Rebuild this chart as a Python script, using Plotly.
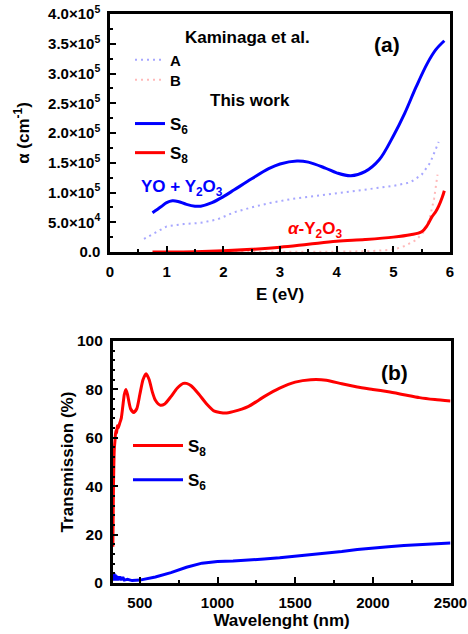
import plotly.graph_objects as go

# ---------- Panel (a): absorption coefficient vs photon energy ----------
E_s6 = [0.75, 0.9, 1.0, 1.1, 1.2, 1.35, 1.5, 1.6, 1.8, 2.0, 2.2, 2.5, 2.8, 3.0, 3.3, 3.5,
        3.8, 4.0, 4.25, 4.5, 4.75, 5.0, 5.2, 5.4, 5.6, 5.75, 5.9]
a_s6 = [6.6e4, 7.6e4, 8.3e4, 8.6e4, 8.5e4, 8.0e4, 7.7e4, 7.7e4, 8.3e4, 9.3e4, 1.05e5, 1.23e5,
        1.40e5, 1.48e5, 1.53e5, 1.51e5, 1.41e5, 1.33e5, 1.28e5, 1.35e5, 1.55e5, 1.95e5,
        2.33e5, 2.77e5, 3.17e5, 3.40e5, 3.55e5]

E_s8 = [0.75, 1.0, 1.5, 2.0, 2.5, 3.0, 3.5, 4.0, 4.5, 5.0, 5.3, 5.5, 5.6, 5.68, 5.75, 5.8, 5.86, 5.9]
a_s8 = [0, 0, 500, 2000, 4500, 8000, 1.3e4, 1.8e4, 2.1e4, 2.5e4, 2.9e4, 3.4e4, 4.5e4, 5.9e4,
        6.8e4, 7.7e4, 9.1e4, 1.03e5]

E_A = [0.6, 0.8, 1.0, 1.3, 1.6, 1.9, 2.2, 2.5, 2.8, 3.2, 3.6, 4.0, 4.5, 5.0, 5.3, 5.5, 5.65, 5.8]
a_A = [2.2e4, 3.2e4, 4.3e4, 4.7e4, 4.9e4, 5.5e4, 6.7e4, 7.5e4, 8.2e4, 8.9e4, 9.4e4, 9.9e4,
       1.04e5, 1.11e5, 1.17e5, 1.30e5, 1.50e5, 1.85e5]

E_B = [2.0, 3.0, 4.0, 4.6, 5.0, 5.2, 5.4, 5.55, 5.65, 5.72, 5.78]
a_B = [0, 0, 500, 1500, 4000, 1.0e4, 2.0e4, 3.5e4, 6.0e4, 9.0e4, 1.3e5]

a_tickvals = [0, 5e4, 1e5, 1.5e5, 2e5, 2.5e5, 3e5, 3.5e5, 4e5]
a_ticktext = ["0.0", "5.0×10<sup>4</sup>", "1.0×10<sup>5</sup>", "1.5×10<sup>5</sup>",
              "2.0×10<sup>5</sup>", "2.5×10<sup>5</sup>", "3.0×10<sup>5</sup>",
              "3.5×10<sup>5</sup>", "4.0×10<sup>5</sup>"]

# ---------- Panel (b): transmission vs wavelength ----------
wl_s8 = [326, 330, 335, 340, 345, 350, 355, 360, 370, 380, 390, 400, 410, 420, 440, 460, 480,
         500, 520, 540, 560, 580, 600, 630, 660, 700, 740, 780, 800, 830, 880, 930, 980, 1050,
         1100, 1200, 1300, 1400, 1500, 1600, 1700, 1800, 1900, 2000, 2100, 2200, 2300, 2400, 2500]
T_s8 = [15, 40, 55, 59, 63, 62, 65, 64, 66, 68, 73, 78, 80, 78, 72, 70.5, 72, 78, 84, 86.5,
        84, 79, 75.5, 73.5, 74, 77, 80.5, 82.5, 82.5, 81.5, 78, 74, 71, 70.2, 70.8, 73, 77,
        80.5, 83, 84, 83.8, 82.3, 81, 80, 79, 77.8, 76.6, 75.8, 75.2]

wl_s6 = [326, 330, 334, 338, 342, 346, 350, 355, 360, 365, 370, 380, 390, 400, 420, 450, 500,
         600, 700, 800, 900, 1000, 1100, 1200, 1300, 1400, 1500, 1600, 1700, 1800, 1900, 2000,
         2100, 2200, 2300, 2400, 2500]
T_s6 = [4.5, 1, 4, 1.5, 3.5, 1, 3.0, 1, 2.8, 1.2, 2.6, 1.2, 2.4, 1.2, 1.5, 1.0, 1.2, 2.5, 4.3,
        6.5, 8.2, 8.9, 9.1, 9.4, 9.9, 10.4, 11.0, 11.6, 12.3, 13.0, 13.8, 14.5, 15.0, 15.5,
        15.9, 16.2, 16.5]

FONT = "Liberation Sans, Arial, sans-serif"
W, H = 468, 634


def px_x(p):
    return p / W


def px_y(p):
    return 1 - p / H


fig = go.Figure()

fig.add_trace(go.Scatter(x=E_A, y=a_A, mode="lines", name="A", legend="legend",
                         line=dict(color="rgba(80,80,255,0.5)", width=2, dash="2px,4px"),
                         xaxis="x", yaxis="y"))
fig.add_trace(go.Scatter(x=E_B, y=a_B, mode="lines", name="B", legend="legend4",
                         line=dict(color="rgba(255,80,80,0.4)", width=2, dash="2px,4px"),
                         xaxis="x", yaxis="y"))
fig.add_trace(go.Scatter(x=E_s6, y=a_s6, mode="lines", name="S<sub>6</sub>", legend="legend2",
                         line=dict(color="#0000ff", width=3, shape="spline"),
                         xaxis="x", yaxis="y", legendgroup="a3"))
fig.add_trace(go.Scatter(x=E_s8, y=a_s8, mode="lines", name="S<sub>8</sub>", legend="legend2",
                         line=dict(color="#ff0000", width=3, shape="spline"),
                         xaxis="x", yaxis="y", legendgroup="a4"))

fig.add_trace(go.Scatter(x=wl_s8, y=T_s8, mode="lines", name="S<sub>8</sub>", legend="legend3",
                         line=dict(color="#ff0000", width=3, shape="spline", smoothing=0.6),
                         xaxis="x2", yaxis="y2", legendgroup="b1"))
fig.add_trace(go.Scatter(x=wl_s6, y=T_s6, mode="lines", name="S<sub>6</sub>", legend="legend3",
                         line=dict(color="#0000ff", width=3),
                         xaxis="x2", yaxis="y2", legendgroup="b2"))


def axis_common(size):
    return dict(showline=True, linecolor="black", linewidth=2.5, mirror=True,
                ticks="inside", ticklen=6, tickwidth=2, tickcolor="black",
                showgrid=False, zeroline=False, automargin=False, ticklabelstandoff=4,
                ticklabeloverflow="allow",
                tickfont=dict(family=FONT, size=size, color="black", weight="bold"))


def minor(dt):
    return dict(dtick=dt, ticks="inside", ticklen=3, tickwidth=2, tickcolor="black")


def ttl(text, standoff):
    return dict(text=text, font=dict(family=FONT, size=17, color="black", weight="bold"),
                standoff=standoff)


def leg(xp, yp, size, gap=0, iw=30, anchor="middle"):
    return dict(x=px_x(xp), y=px_y(yp), xanchor="left", yanchor=anchor,
                bgcolor="rgba(0,0,0,0)", font=dict(family=FONT, size=size, weight="bold"),
                tracegroupgap=gap, itemwidth=iw)


fig.update_layout(
    template="none",
    width=W, height=H, margin=dict(l=0, r=0, t=0, b=0, autoexpand=False),
    paper_bgcolor="white", plot_bgcolor="white",
    font=dict(family=FONT, size=15, color="black", weight="bold"),
    xaxis=dict(domain=[px_x(110), px_x(450)], range=[0, 6], dtick=1, anchor="y",
               minor=minor(0.5), title=ttl("E (eV)", 10), **axis_common(15)),
    yaxis=dict(domain=[px_y(252), px_y(14)], range=[0, 4e5], tickvals=a_tickvals,
               ticktext=a_ticktext, anchor="x", minor=minor(2.5e4),
               title=ttl("α (cm<sup>-1</sup>)", 15), **axis_common(15)),
    xaxis2=dict(domain=[px_x(112.7), px_x(450.5)], range=[325, 2500],
                tickvals=[500, 1000, 1500, 2000, 2500], anchor="y2",
                minor=dict(dtick=250, tick0=0, ticks="inside", ticklen=3, tickwidth=2,
                           tickcolor="black"),
                title=ttl("Wavelenght (nm)", 5), **axis_common(15)),
    yaxis2=dict(domain=[px_y(583), px_y(341)], range=[0, 100], dtick=20, anchor="x2",
                minor=minor(4), title=ttl("Transmission (%)", 0), **axis_common(15.5)),
    legend=leg(130, 60, 15),
    legend4=leg(130, 80, 15),
    legend2=dict(leg(130, 106, 17, gap=4), yanchor="top"),
    legend3=dict(leg(128, 428, 17, gap=9, iw=50), yanchor="top"),
    showlegend=True,
)

ann = [
    dict(x=2.42, y=3.61e5, xref="x", yref="y", text="Kaminaga et al.", font=dict(size=17)),
    dict(x=2.47, y=2.54e5, xref="x", yref="y", text="This work", font=dict(size=17)),
    dict(x=4.88, y=3.48e5, xref="x", yref="y", text="(a)", font=dict(size=21)),
    dict(x=1.27, y=1.08e5, xref="x", yref="y", text="YO + Y<sub>2</sub>O<sub>3</sub>",
         font=dict(size=17, color="#0000ff")),
    dict(x=3.62, y=3.7e4, xref="x", yref="y", text="<i>α</i>-Y<sub>2</sub>O<sub>3</sub>",
         font=dict(size=17, color="#ff0000")),
    dict(x=2140, y=86.8, xref="x2", yref="y2", text="(b)", font=dict(size=21)),
]
for a in ann:
    f = dict(family=FONT, color="black", weight="bold")
    f.update(a.pop("font"))
    fig.add_annotation(showarrow=False, font=f, **a)

fig.write_html("out.html")
